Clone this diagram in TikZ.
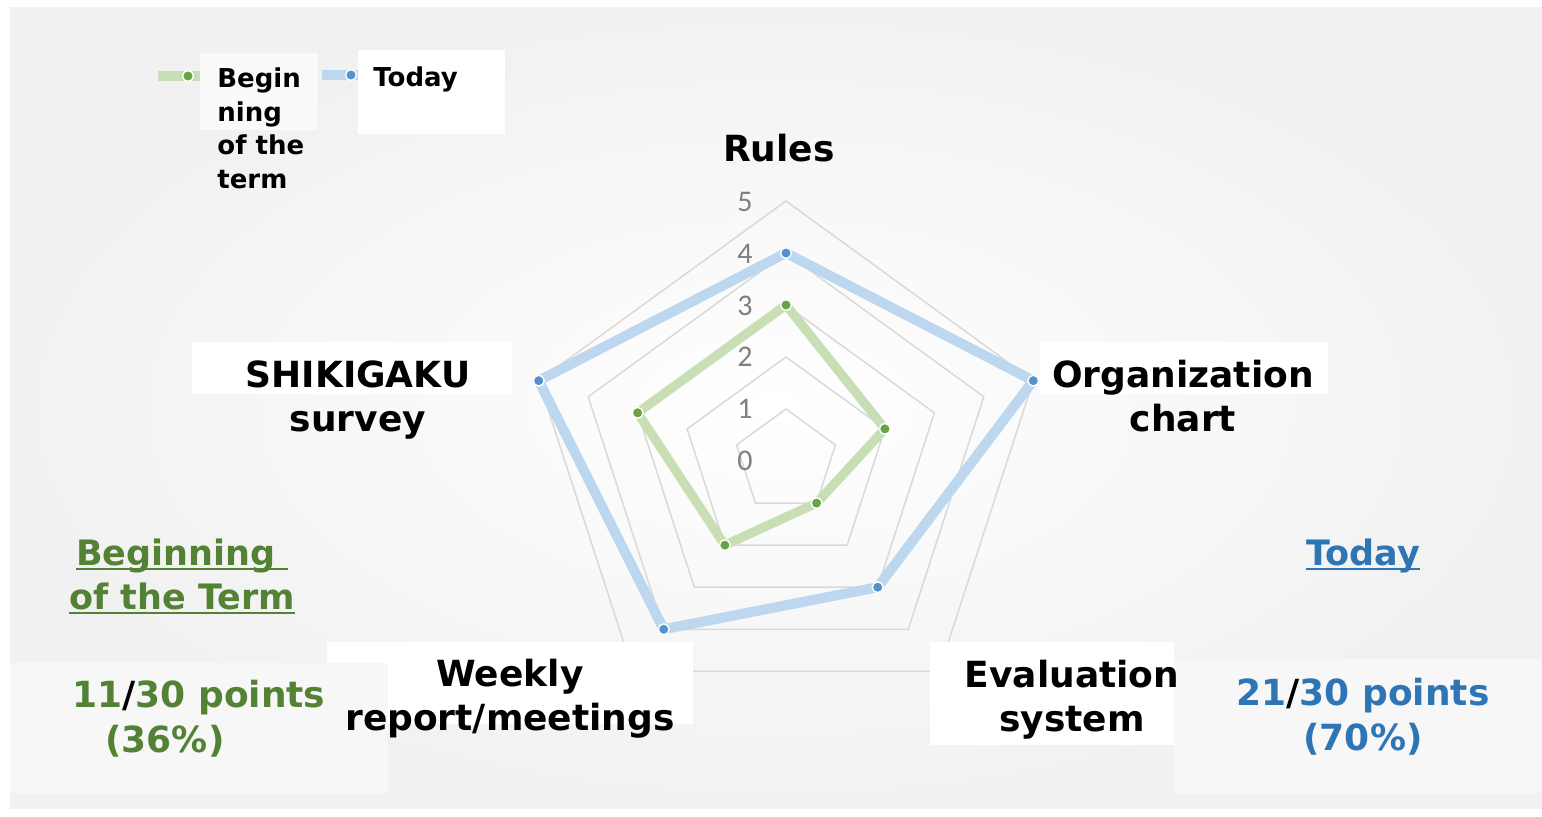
\documentclass[tikz,border=0pt]{standalone}
\usepackage{fontspec}
\setmainfont{DejaVu Sans}
\newfontfamily\tickfont{Carlito}

\newlength{\du}
\setlength{\du}{0.5pt}

\definecolor{pagegray}{HTML}{F1F1F1}
\definecolor{scorebox}{HTML}{F7F7F7}
\definecolor{keybox}{HTML}{FAFAFA}
\definecolor{gridgray}{HTML}{D9D9D9}
\definecolor{tickgray}{HTML}{808080}
\definecolor{beginline}{HTML}{C8DEB4}
\definecolor{begindotc}{HTML}{6AA343}
\definecolor{todayline}{HTML}{BDD7EE}
\definecolor{todaydotc}{HTML}{5590CF}
\definecolor{termgreen}{HTML}{548235}
\definecolor{termblue}{HTML}{2E75B6}

\newcommand{\underword}[1]{\setbox0\hbox{#1}\rlap{\rule[-2.5pt]{\wd0}{1pt}}\box0}

\begin{document}
\begin{tikzpicture}[
  axis label/.style={font=\bfseries\fontsize{18}{22}\selectfont, align=center, inner sep=0pt, anchor=base},
  legend text/.style={font=\bfseries\fontsize{13}{16.75}\selectfont, align=left, inner sep=0pt, anchor=base west},
  term title/.style={font=\bfseries\fontsize{17.5}{22}\selectfont, align=center, inner sep=0pt, anchor=base},
  score/.style={font=\bfseries\fontsize{18}{22.5}\selectfont, inner sep=0pt, anchor=base},
  tick label/.style={font=\tickfont\fontsize{15}{15}\selectfont, text=tickgray, inner sep=0pt},
  grid line/.style={draw=gridgray, line width=0.75pt, line join=miter},
  begin series/.style={draw=beginline, line width=4.6pt, line join=round},
  today series/.style={draw=todayline, line width=5pt, line join=round},
  begin dot/.style={circle, fill=begindotc, draw=white, line width=0.7pt, inner sep=0pt, minimum size=5.4pt},
  today dot/.style={circle, fill=todaydotc, draw=white, line width=0.7pt, inner sep=0pt, minimum size=5.4pt},
  label box/.style={fill=white, draw=none}
]
\pgftransformxscale{1.000000}
\pgftransformyscale{-1.000000}
\useasboundingbox (0\du,0\du) rectangle (1542\du,816\du);
% page
\fill[white] (0\du,0\du) rectangle (1542\du,816\du);
\shade[inner color=white, outer color=pagegray] (10\du,7\du) rectangle (1542\du,808\du);
% grid, levels 1 to 5
\draw[grid line] (786.000000\du,409.000000\du)--(835.455\du,444.932\du)--(816.565\du,503.068\du)--(755.435\du,503.068\du)--(736.545\du,444.932\du)--cycle;
\draw[grid line] (786.000000\du,357.000000\du)--(884.910\du,428.863\du)--(847.130\du,545.137\du)--(724.870\du,545.137\du)--(687.090\du,428.863\du)--cycle;
\draw[grid line] (786.000000\du,305.000000\du)--(934.365\du,412.795\du)--(877.695\du,587.205\du)--(694.305\du,587.205\du)--(637.635\du,412.795\du)--cycle;
\draw[grid line] (786.000000\du,253.000000\du)--(983.820\du,396.727\du)--(908.260\du,629.273\du)--(663.740\du,629.273\du)--(588.180\du,396.727\du)--cycle;
\draw[grid line] (786.000000\du,201.000000\du)--(1033.275\du,380.659\du)--(938.825\du,671.341\du)--(633.175\du,671.341\du)--(538.725\du,380.659\du)--cycle;
% boxes behind the texts
\fill[keybox] (200\du,53\du) rectangle (318\du,130\du);
\fill[label box] (358\du,50\du) rectangle (505\du,134\du);
\fill[label box] (192\du,342\du) rectangle (512\du,394\du);
\fill[label box] (1040\du,342\du) rectangle (1328\du,394\du);
\fill[label box] (327\du,642\du) rectangle (693\du,724\du);
\fill[label box] (930\du,642\du) rectangle (1174\du,745\du);
\fill[scorebox] (10\du,663\du) rectangle (388\du,793\du);
\fill[scorebox] (1174\du,659\du) rectangle (1542\du,793\du);
% series: beginning of the term
\coordinate (beginrules) at (786.000\du,305.000\du);
\coordinate (beginorg) at (884.910\du,428.863\du);
\coordinate (begineval) at (816.565\du,503.068\du);
\coordinate (beginweekly) at (724.870\du,545.137\du);
\coordinate (beginsurvey) at (637.635\du,412.795\du);
\draw[begin series] (beginrules)--(beginorg)--(begineval)--(beginweekly)--(beginsurvey)--cycle;
% series: today
\coordinate (todayrules) at (786.000\du,253.000\du);
\coordinate (todayorg) at (1033.275\du,380.659\du);
\coordinate (todayeval) at (877.695\du,587.205\du);
\coordinate (todayweekly) at (663.740\du,629.273\du);
\coordinate (todaysurvey) at (538.725\du,380.659\du);
\draw[today series] (todayrules)--(todayorg)--(todayeval)--(todayweekly)--(todaysurvey)--cycle;
\node[begin dot] (beginrulesdot) at (beginrules) {};
\node[begin dot] (beginorgdot) at (beginorg) {};
\node[begin dot] (beginevaldot) at (begineval) {};
\node[begin dot] (beginweeklydot) at (beginweekly) {};
\node[begin dot] (beginsurveydot) at (beginsurvey) {};
\node[today dot] (todayrulesdot) at (todayrules) {};
\node[today dot] (todayorgdot) at (todayorg) {};
\node[today dot] (todayevaldot) at (todayeval) {};
\node[today dot] (todayweeklydot) at (todayweekly) {};
\node[today dot] (todaysurveydot) at (todaysurvey) {};
% tick labels
\node[tick label] (tick0) at (745\du,461\du) {0};
\node[tick label] (tick1) at (745\du,409\du) {1};
\node[tick label] (tick2) at (745\du,357\du) {2};
\node[tick label] (tick3) at (745\du,306\du) {3};
\node[tick label] (tick4) at (745\du,254\du) {4};
\node[tick label] (tick5) at (745\du,202\du) {5};
% axis labels (base = last line)
\node[axis label] (rules) at (779\du,161\du) {Rules};
\node[axis label] (orgchart) at (1183\du,431\du) {Organization\\chart};
\node[axis label] (evalsystem) at (1072\du,731\du) {Evaluation\\system};
\node[axis label] (weekly) at (510\du,730\du) {Weekly\\report/meetings};
\node[axis label] (survey) at (358\du,431\du) {SHIKIGAKU\\survey};
% legend
\coordinate (beginkeyleft) at (158\du,76\du);
\coordinate (beginkeyright) at (200\du,76\du);
\draw[begin series] (beginkeyleft)--(beginkeyright);
\node[begin dot] (beginkeydot) at (188\du,76\du) {};
\node[legend text] (beginkey) at (217\du,188\du) {Begin\\ning\\of the\\term};
\coordinate (todaykeyleft) at (322\du,75\du);
\coordinate (todaykeyright) at (358\du,75\du);
\draw[today series] (todaykeyleft)--(todaykeyright);
\node[today dot] (todaykeydot) at (351\du,75\du) {};
\node[legend text] (todaykey) at (373\du,86\du) {Today};
% totals
\node[term title, text=termgreen] (begintitle) at (182\du,609\du) {\underword{Beginning\ }\\\underword{of the Term}};
\node[term title, text=termblue] (todaytitle) at (1363\du,565\du) {\underword{Today}};
\node[score, text=termgreen, align=left, anchor=base west] (beginscore) at (72\du,752\du) {11{\color{black}/}30 points\\\hspace*{16.5pt}(36\%)};
\node[score, text=termblue, align=center] (todayscore) at (1363\du,750\du) {21{\color{black}/}30 points\\(70\%)};
\end{tikzpicture}
\end{document}
